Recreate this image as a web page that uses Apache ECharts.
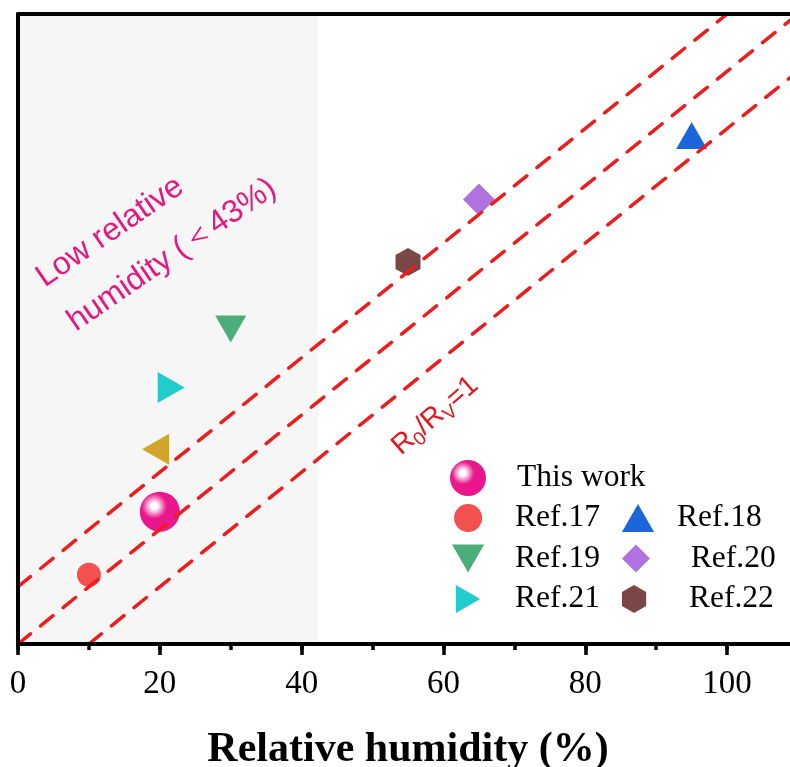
<!DOCTYPE html>
<html>
<head>
<meta charset="utf-8">
<script src="https://cdn.jsdelivr.net/npm/echarts@6/dist/echarts.min.js"></script>
<style>
html,body{margin:0;padding:0;background:#fff;}
#chart{width:790px;height:767px;}
</style>
</head>
<body>
<div id="chart"></div>
<script>
// ---- data ----
const xTickLabels = [0, 20, 40, 60, 80, 100];
const thisWork = [[20, 23.1]];
const ref17 = [[10, 12.1]];
const ref18 = [[95, 88.8]];
const ref19 = [[30, 55.0]];
const ref20 = [[65, 77.6]];
const ref21 = [[21.6, 44.8]];
const ref22 = [[55, 66.7]];
const refOther = [[19.4, 34.0]];
const ratioLineOffsets = [10, 0, -10];
const lowHumidityRange = [0, 42.3];
const axisMin = 0, axisMax = 110;

const chart = echarts.init(document.getElementById('chart'));
const serif = '"Liberation Serif", "Times New Roman", serif';
const sans = '"Liberation Sans", Arial, sans-serif';

function ratioLine(off) {
  const x0 = Math.max(axisMin, axisMin - off);
  const x1 = Math.min(axisMax, axisMax - off);
  return [[x0, x0 + off], [x1, x1 + off]];
}

const triUp = 'path://M15.5,0L31,27L0,27Z';
const triDown = 'path://M0,0L31,0L15.5,27Z';
const triRight = 'path://M0,0L27,15.5L0,31Z';
const triLeft = 'path://M27,0L0,15.5L27,31Z';
const diamond = 'path://M16,0L32,16L16,32L0,16Z';
const hexPath = 'path://M0,-1L0.866,-0.5L0.866,0.5L0,1L-0.866,0.5L-0.866,-0.5Z';
const sphere = new echarts.graphic.RadialGradient(0.36, 0.36, 0.32, [
  {offset: 0, color: '#FFFFFF'},
  {offset: 0.25, color: '#FFFFFF'},
  {offset: 0.5, color: '#F7B0D8'},
  {offset: 0.9, color: '#EC2E97'},
  {offset: 1, color: '#E9178B'}
]);

const scatterDefs = [
  {name: 'This work', data: thisWork, symbol: 'circle', size: 40, color: sphere},
  {name: 'Ref.17', data: ref17, symbol: 'circle', size: 24, color: '#F35050'},
  {name: 'Ref.18', data: ref18, symbol: triUp, size: [31, 27], color: '#1A66DA'},
  {name: 'Ref.19', data: ref19, symbol: triDown, size: [31, 27], color: '#4BAE7A'},
  {name: 'Ref.20', data: ref20, symbol: diamond, size: [32, 32], color: '#B072DE'},
  {name: 'Ref.21', data: ref21, symbol: triRight, size: [27, 31], color: '#22CCCC'},
  {name: 'Ref.22', data: ref22, symbol: hexPath, size: [25, 28], color: '#7A4646'},
  {name: 'Other', data: refOther, symbol: triLeft, size: [27, 31], color: '#D3A42A'}
];

const series = [];
series.push({
  type: 'line', data: [], z: 0, silent: true,
  markArea: {
    silent: true,
    itemStyle: {color: '#F6F6F6'},
    data: [[{xAxis: lowHumidityRange[0]}, {xAxis: lowHumidityRange[1]}]]
  }
});
scatterDefs.forEach(d => {
  series.push({
    type: 'scatter', name: d.name, data: d.data, symbol: d.symbol,
    symbolSize: d.size, z: 2,
    itemStyle: {color: d.color, opacity: 1}
  });
});
ratioLineOffsets.forEach(off => {
  series.push({
    type: 'line', data: ratioLine(off), symbol: 'none', silent: true, z: 3,
    clip: true,
    lineStyle: {color: '#EE1C1C', width: 3.5, type: [16, 13], cap: 'round'}
  });
});

const legendText = {fontSize: 31.5, lineHeight: 28, fontFamily: serif, color: '#000', padding: [0, 13.5, 0, 17]};

const option = {
  backgroundColor: '#fff',
  animation: false,
  grid: {left: 18, top: 14, width: 780, height: 630, show: false, outerBoundsMode: 'none', containLabel: false},
  xAxis: [
    {
      type: 'value', min: axisMin, max: axisMax, interval: 20, position: 'bottom', z: 10,
      axisLine: {show: true, lineStyle: {color: '#000', width: 4}},
      axisTick: {show: true, inside: false, length: 11, lineStyle: {color: '#000', width: 3.5}},
      axisLabel: {show: true, margin: 24, showMaxLabel: false, fontSize: 33, fontFamily: serif, color: '#000',
        formatter: v => xTickLabels.includes(v) ? String(v) : ''},
      splitLine: {show: false},
      name: 'Relative humidity (%)', nameLocation: 'middle', nameGap: 85,
      nameTextStyle: {fontSize: 42, fontWeight: 'bold', fontFamily: serif, color: '#000'}
    },
    {
      type: 'value', min: axisMin, max: axisMax, interval: 10, position: 'bottom', z: 9,
      axisLine: {show: false},
      axisTick: {show: true, inside: false, length: 6, lineStyle: {color: '#000', width: 3.5}},
      axisLabel: {show: false}, splitLine: {show: false}
    },
    {
      type: 'value', min: axisMin, max: axisMax, position: 'top', z: 10,
      axisLine: {show: true, lineStyle: {color: '#000', width: 4}},
      axisTick: {show: false}, axisLabel: {show: false}, splitLine: {show: false}
    }
  ],
  yAxis: {
    type: 'value', min: axisMin, max: axisMax, z: 10,
    axisLine: {show: true, lineStyle: {color: '#000', width: 4}},
    axisTick: {show: false}, axisLabel: {show: false}, splitLine: {show: false}
  },
  legend: [
    {
      data: ['This work'], left: 450, top: 460, padding: 0, orient: 'horizontal',
      itemWidth: 50, itemHeight: 36, selectedMode: false,
      textStyle: {fontSize: 31.5, fontFamily: serif, color: '#000', padding: [0, 0, 0, 19]}
    },
    {
      data: [
        'Ref.17',
        {name: 'Ref.18', textStyle: Object.assign({}, legendText, {padding: [0, 13.5, 0, 9]})},
        'Ref.19', 'Ref.20', 'Ref.21', 'Ref.22'
      ],
      left: 452, top: 502, width: 370, padding: 0, orient: 'horizontal',
      itemGap: 8.5, itemWidth: 50, itemHeight: 28, selectedMode: false, symbolKeepAspect: true,
      formatter: n => (n === 'Ref.20' || n === 'Ref.22') ? ' ' + n : n,
      textStyle: legendText
    }
  ],
  graphic: [
    {type: 'text', x: 110, y: 232, rotation: 34.5 * Math.PI / 180, z: 20,
      style: {text: 'Low relative', font: '32px ' + sans, fill: '#E6177F', align: 'center', verticalAlign: 'middle'}},
    {type: 'text', x: 172, y: 255, rotation: 34.5 * Math.PI / 180, z: 20,
      style: {text: 'humidity (＜43%)', font: '32px ' + sans, fill: '#E6177F', align: 'center', verticalAlign: 'middle'}},
    {type: 'group', x: 396, y: 450, rotation: 41 * Math.PI / 180, z: 20,
      children: [
        {type: 'text', x: 0, y: 0, style: {text: 'R', font: '28px ' + sans, fill: '#E8141C', align: 'left', verticalAlign: 'middle'}},
        {type: 'text', x: 20, y: 8, style: {text: '0', font: '19px ' + sans, fill: '#E8141C', align: 'left', verticalAlign: 'middle'}},
        {type: 'text', x: 31, y: 0, style: {text: '/R', font: '28px ' + sans, fill: '#E8141C', align: 'left', verticalAlign: 'middle'}},
        {type: 'text', x: 59, y: 8, style: {text: 'V', font: '19px ' + sans, fill: '#E8141C', align: 'left', verticalAlign: 'middle'}},
        {type: 'text', x: 72, y: 0, style: {text: '=1', font: '28px ' + sans, fill: '#E8141C', align: 'left', verticalAlign: 'middle'}}
      ]}
  ],
  series: series
};
chart.setOption(option);
</script>
</body>
</html>
